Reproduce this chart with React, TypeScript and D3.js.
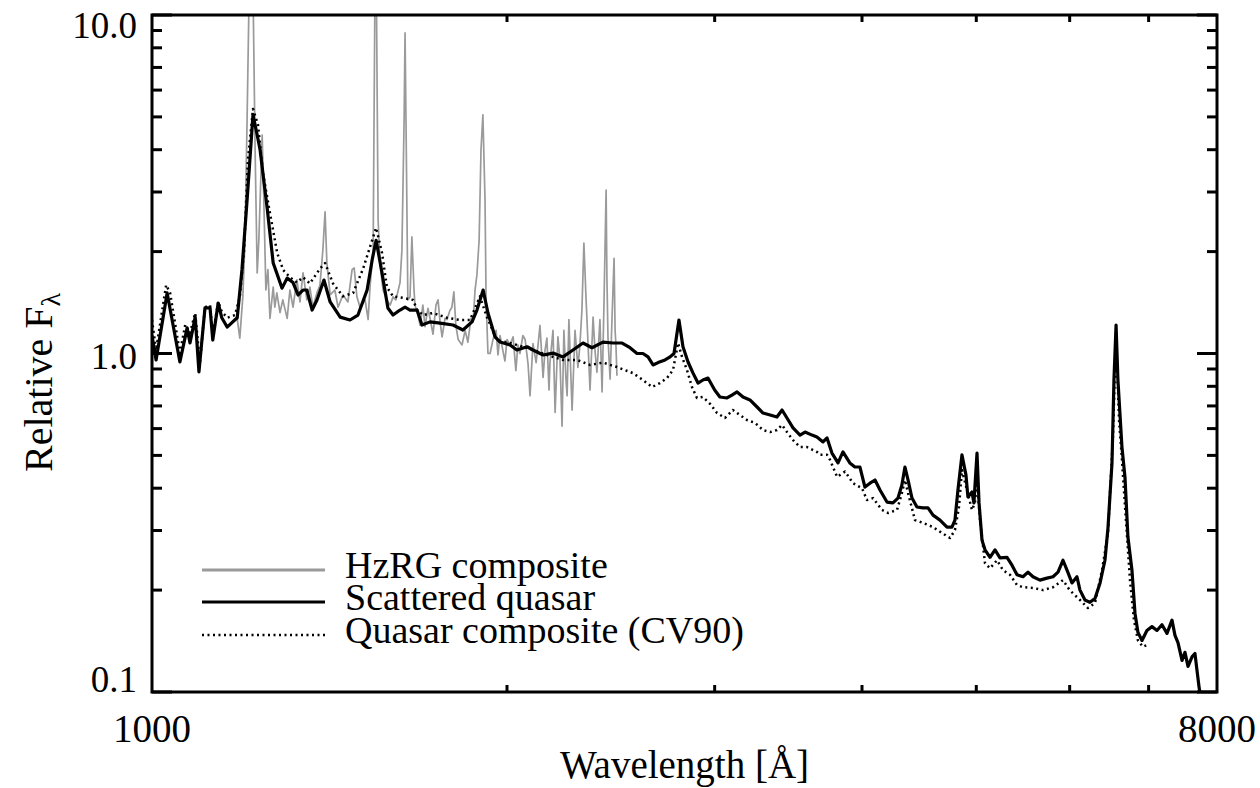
import React from "react";
import * as d3 from "d3";

// ---------- data (rest-frame wavelength [Å], relative F_lambda) ----------
const hzrgComposite: [number, number][] = [
  [1181,1.27],[1187,1.11],[1194,1.47],[1199,2.16],[1204,4.9],[1209,12],[1213,16],[1218,12],[1223,4.0],[1228,1.73],
  [1232,2.16],[1240,4.42],[1244,2.84],[1249,1.54],[1254,1.77],[1259,1.27],[1267,1.57],[1271,1.37],[1276,1.51],[1284,1.32],
  [1291,1.44],[1302,1.27],[1309,1.54],[1317,1.37],[1327,1.65],[1335,1.42],[1343,1.73],[1353,1.44],[1361,1.57],[1369,1.37],
  [1380,1.51],[1388,1.59],[1396,2.02],[1402,2.62],[1407,1.85],[1416,1.49],[1429,1.54],[1438,1.37],[1452,1.49],[1466,1.42],
  [1478,1.77],[1484,1.79],[1492,1.47],[1501,1.37],[1516,1.44],[1525,1.26],[1531,1.59],[1540,2.02],[1546,14],[1549,15],
  [1555,2.48],[1561,1.83],[1570,1.54],[1582,1.44],[1592,1.39],[1601,1.47],[1610,1.44],[1623,1.62],[1629,2.02],[1636,4.9],
  [1639,8.85],[1642,4.9],[1648,1.44],[1655,1.47],[1661,2.21],[1668,1.54],[1671,1.39],[1681,1.3],[1688,1.21],[1697,1.39],
  [1704,1.2],[1714,1.36],[1721,1.27],[1731,1.14],[1741,1.39],[1748,1.44],[1755,1.24],[1762,1.12],[1772,1.27],[1779,1.26],
  [1789,1.34],[1796,1.37],[1803,1.52],[1810,1.21],[1818,1.1],[1832,1.06],[1843,1.17],[1853,1.08],[1864,1.27],[1872,1.24],
  [1879,1.54],[1886,1.71],[1894,2.16],[1901,3.99],[1908,5.07],[1916,2.84],[1920,1.44],[1927,1.0],[1935,1.0],[1946,1.1],
  [1958,1.17],[1965,0.99],[1973,1.13],[1984,1.02],[1992,0.95],[2000,1.1],[2012,1.06],[2024,1.12],[2035,0.89],[2043,1.06],
  [2051,1.0],[2063,1.13],[2072,1.1],[2084,0.93],[2092,0.75],[2104,1.07],[2117,0.94],[2125,1.06],[2133,1.21],[2146,0.85],
  [2154,1.02],[2162,1.11],[2171,0.78],[2175,0.94],[2188,1.17],[2197,0.67],[2209,1.12],[2218,0.96],[2227,0.61],[2235,1.17],
  [2244,0.84],[2249,0.75],[2257,1.26],[2271,0.68],[2284,1.17],[2297,0.91],[2306,1.06],[2315,1.34],[2324,2.12],[2334,1.44],
  [2338,1.26],[2352,0.78],[2366,1.28],[2375,1.02],[2384,0.88],[2398,1.26],[2408,0.77],[2417,1.41],[2427,3.04],[2431,1.65],
  [2436,1.11],[2446,0.84],[2455,1.26],[2465,1.91],[2470,1.17],[2474,1.06],[2479,0.86]
];

const scatteredQuasar: [number, number][] = [
  [1000,1.13],[1008,0.957],[1030,1.51],[1056,0.944],[1071,1.19],[1077,1.074],[1088,1.281],[1096,0.882],[1109,1.363],[1120,1.363],
  [1126,1.096],[1138,1.41],[1146,1.275],[1158,1.197],[1181,1.275],[1192,1.765],[1204,2.84],[1218,5.07],[1228,4.42],[1235,3.99],
  [1252,2.7],[1267,1.85],[1289,1.56],[1302,1.67],[1317,1.62],[1330,1.489],[1343,1.54],[1353,1.54],[1367,1.344],[1380,1.439],
  [1399,1.648],[1416,1.42],[1444,1.281],[1472,1.256],[1495,1.299],[1522,1.54],[1537,1.89],[1549,2.16],[1567,1.73],[1585,1.363],
  [1601,1.299],[1623,1.344],[1639,1.37],[1655,1.344],[1678,1.344],[1694,1.214],[1721,1.24],[1755,1.23],[1800,1.214],[1835,1.173],
  [1868,1.24],[1886,1.344],[1909,1.54],[1927,1.317],[1954,1.119],[1973,1.081],[2012,1.06],[2039,1.024],[2080,1.047],[2104,1.024],
  [2146,0.99],[2188,1.003],[2231,0.977],[2275,1.024],[2320,1.074],[2361,1.04],[2412,1.081],[2460,1.074],[2504,1.074],[2543,1.04],
  [2578,1.0],[2608,1.0],[2634,0.977],[2660,0.925],[2686,0.94],[2723,0.957],[2750,0.977],[2771,1.0],[2798,1.256],[2820,1.047],
  [2848,0.944],[2876,0.875],[2904,0.818],[2932,0.835],[2961,0.846],[3000,0.78],[3031,0.744],[3073,0.739],[3103,0.754],[3134,0.77],
  [3171,0.744],[3214,0.729],[3259,0.695],[3297,0.667],[3343,0.658],[3388,0.649],[3422,0.681],[3455,0.645],[3496,0.603],[3544,0.574],
  [3579,0.586],[3628,0.574],[3663,0.567],[3707,0.548],[3736,0.563],[3772,0.508],[3817,0.475],[3854,0.512],[3906,0.475],[3945,0.462],
  [3984,0.462],[4023,0.403],[4063,0.414],[4103,0.423],[4143,0.395],[4200,0.364],[4249,0.362],[4291,0.374],[4324,0.409],[4350,0.462],
  [4376,0.423],[4410,0.374],[4453,0.352],[4506,0.35],[4550,0.35],[4595,0.333],[4658,0.322],[4722,0.307],[4768,0.307],[4796,0.322],
  [4824,0.395],[4862,0.502],[4900,0.438],[4919,0.377],[4958,0.39],[4977,0.362],[5007,0.508],[5027,0.362],[5056,0.281],[5086,0.263],
  [5136,0.25],[5186,0.263],[5237,0.249],[5309,0.25],[5361,0.237],[5414,0.222],[5477,0.219],[5531,0.226],[5585,0.219],[5662,0.214],
  [5740,0.217],[5808,0.219],[5865,0.226],[5922,0.245],[5969,0.229],[6027,0.21],[6086,0.219],[6122,0.2],[6182,0.187],[6243,0.184],
  [6304,0.189],[6367,0.21],[6428,0.245],[6466,0.305],[6517,0.475],[6542,0.835],[6569,1.214],[6593,0.835],[6645,0.529],[6684,0.432],
  [6723,0.287],[6776,0.229],[6816,0.171],[6856,0.15],[6910,0.142],[6977,0.152],[7046,0.156],[7115,0.152],[7185,0.158],[7256,0.149],
  [7327,0.163],[7370,0.147],[7413,0.14],[7472,0.124],[7515,0.131],[7560,0.119],[7619,0.127],[7663,0.13],[7693,0.116],[7723,0.104],
  [7739,0.099]
];

const quasarCompositeCV90: [number, number][] = [
  [1000,1.256],[1008,1.024],[1028,1.594],[1036,1.51],[1056,1.003],[1067,1.214],[1077,1.15],[1088,1.317],[1098,0.94],[1109,1.37],
  [1120,1.39],[1126,1.134],[1138,1.42],[1146,1.33],[1158,1.275],[1176,1.299],[1187,1.47],[1197,2.02],[1206,3.73],[1218,5.28],
  [1230,4.73],[1242,3.41],[1259,2.6],[1277,1.98],[1292,1.765],[1309,1.68],[1327,1.62],[1343,1.68],[1361,1.61],[1388,1.78],
  [1402,1.85],[1424,1.61],[1452,1.475],[1481,1.51],[1510,1.78],[1531,2.07],[1549,2.35],[1567,1.98],[1582,1.57],[1601,1.475],
  [1633,1.46],[1665,1.439],[1678,1.344],[1698,1.299],[1731,1.317],[1779,1.275],[1825,1.256],[1861,1.256],[1897,1.475],[1923,1.281],
  [1961,1.096],[2012,1.074],[2064,1.047],[2104,1.024],[2163,0.99],[2231,0.957],[2293,0.957],[2352,0.925],[2412,0.94],[2479,0.912],
  [2558,0.875],[2608,0.835],[2655,0.796],[2696,0.818],[2733,0.846],[2766,0.894],[2793,1.074],[2815,0.977],[2842,0.894],[2870,0.796],
  [2898,0.739],[2932,0.744],[2973,0.71],[3014,0.667],[3061,0.645],[3109,0.681],[3152,0.658],[3195,0.636],[3246,0.624],[3297,0.594],
  [3343,0.586],[3388,0.594],[3422,0.615],[3455,0.586],[3496,0.555],[3544,0.529],[3593,0.529],[3663,0.512],[3685,0.502],[3736,0.502],
  [3758,0.485],[3810,0.432],[3870,0.448],[3930,0.414],[4000,0.4],[4039,0.369],[4087,0.374],[4159,0.345],[4208,0.338],[4283,0.345],
  [4324,0.387],[4350,0.423],[4376,0.387],[4436,0.322],[4506,0.316],[4595,0.307],[4676,0.295],[4750,0.285],[4796,0.301],[4834,0.352],
  [4862,0.453],[4910,0.395],[4958,0.345],[4987,0.362],[5007,0.423],[5037,0.322],[5086,0.24],[5136,0.232],[5206,0.245],[5268,0.229],
  [5340,0.222],[5414,0.207],[5477,0.204],[5585,0.203],[5696,0.2],[5808,0.204],[5922,0.214],[6000,0.2],[6122,0.187],[6218,0.177],
  [6304,0.183],[6391,0.229],[6466,0.295],[6529,0.567],[6569,1.15],[6607,0.636],[6645,0.485],[6697,0.322],[6750,0.214],[6803,0.163],
  [6856,0.142],[6923,0.136],[6991,0.138]
];

const xLabelTicks = [1000, 8000];
const xMinorTicks = [2000, 3000, 4000, 5000, 6000, 7000];
const yMajorTicks = [0.1, 1, 10];
const yMajorLabels = ["0.1", "1.0", "10.0"];
const yMinorTicks = [0.2, 0.3, 0.4, 0.5, 0.6, 0.7, 0.8, 0.9, 2, 3, 4, 5, 6, 7, 8, 9];

const legendLabels = ["HzRG composite", "Scattered quasar", "Quasar composite (CV90)"];

// ---------- layout ----------
const W = 1260, H = 788;
const L = 152, R = 1217, T = 15, B = 692;
const FONT = '"Liberation Serif", Tinos, "Times New Roman", Times, "Nimbus Roman", "Nimbus Roman No9 L", FreeSerif, "Noto Serif", "DejaVu Serif", serif';

export default function App() {
  const x = d3.scaleLog().domain([1000, 8000]).range([L, R]);
  const y = d3.scaleLog().domain([0.1, 10]).range([B, T]);
  const line = d3.line<[number, number]>().x(d => x(d[0])).y(d => y(d[1]));

  const legendStyles = [
    { stroke: "#9a9a9a", width: 3, dash: undefined as string | undefined },
    { stroke: "#000", width: 3, dash: undefined as string | undefined },
    { stroke: "#000", width: 2.5, dash: "2,3.5" },
  ];
  const legendY = [570, 602, 635];
  const txt = (size: number) => ({ fontFamily: FONT, fontSize: size + "px" });

  return (
    <svg width={W} height={H} style={{ position: "absolute", left: 0, top: 0, background: "#fff" }}
      xmlns="http://www.w3.org/2000/svg">
      <rect x={0} y={0} width={W} height={H} fill="#fff" />
      <defs>
        <clipPath id="plotclip">
          <rect x={L} y={T} width={R - L} height={B - T} />
        </clipPath>
      </defs>

      <g clipPath="url(#plotclip)" fill="none" strokeLinejoin="round">
        <path d={line(hzrgComposite) || ""} stroke="#9a9a9a" strokeWidth={1.7} />
        <path d={line(quasarCompositeCV90) || ""} stroke="#000" strokeWidth={2.5} strokeDasharray="2,3.5" />
        <path d={line(scatteredQuasar) || ""} stroke="#000" strokeWidth={3.2} />
      </g>

      {/* frame */}
      <rect x={L} y={T} width={R - L} height={B - T} fill="none" stroke="#000" strokeWidth={3} />

      {/* y ticks */}
      {yMajorTicks.map(v => (
        <g key={"ym" + v}>
          <line x1={L} x2={L + 20} y1={y(v)} y2={y(v)} stroke="#000" strokeWidth={3} />
          <line x1={R} x2={R - 20} y1={y(v)} y2={y(v)} stroke="#000" strokeWidth={3} />
        </g>
      ))}
      {yMinorTicks.map(v => (
        <g key={"yn" + v}>
          <line x1={L} x2={L + 10} y1={y(v)} y2={y(v)} stroke="#000" strokeWidth={3} />
          <line x1={R} x2={R - 10} y1={y(v)} y2={y(v)} stroke="#000" strokeWidth={3} />
        </g>
      ))}
      {yMajorTicks.map((v, i) => (
        <text key={"yl" + v} x={L - 15} y={Math.min(Math.max(y(v) + 15, T + 23), B)}
          textAnchor="end" style={txt(37)} fill="#000">{yMajorLabels[i]}</text>
      ))}

      {/* x ticks */}
      {xMinorTicks.map(v => (
        <g key={"xm" + v}>
          <line x1={x(v)} x2={x(v)} y1={B} y2={B - 7} stroke="#000" strokeWidth={3} />
          <line x1={x(v)} x2={x(v)} y1={T} y2={T + 7} stroke="#000" strokeWidth={3} />
        </g>
      ))}
      {xLabelTicks.map(v => (
        <text key={"xl" + v} x={x(v)} y={742} textAnchor="middle" style={txt(39)} fill="#000">
          {String(v)}
        </text>
      ))}

      {/* axis titles */}
      <text x={(L + R) / 2} y={778} textAnchor="middle" style={txt(39)} fill="#000">
        Wavelength [Å]
      </text>
      <text transform="rotate(-90)" x={-472} y={52} style={txt(40)} fill="#000">
        Relative F<tspan dy={8} style={{ fontSize: "28px" }}>λ</tspan>
      </text>

      {/* legend */}
      {legendLabels.map((lab, i) => (
        <g key={lab}>
          <line x1={202} x2={325} y1={legendY[i]} y2={legendY[i]} stroke={legendStyles[i].stroke}
            strokeWidth={legendStyles[i].width} strokeDasharray={legendStyles[i].dash} />
          <text x={345} y={legendY[i] + 8} style={txt(38)} fill="#000">{lab}</text>
        </g>
      ))}
    </svg>
  );
}
